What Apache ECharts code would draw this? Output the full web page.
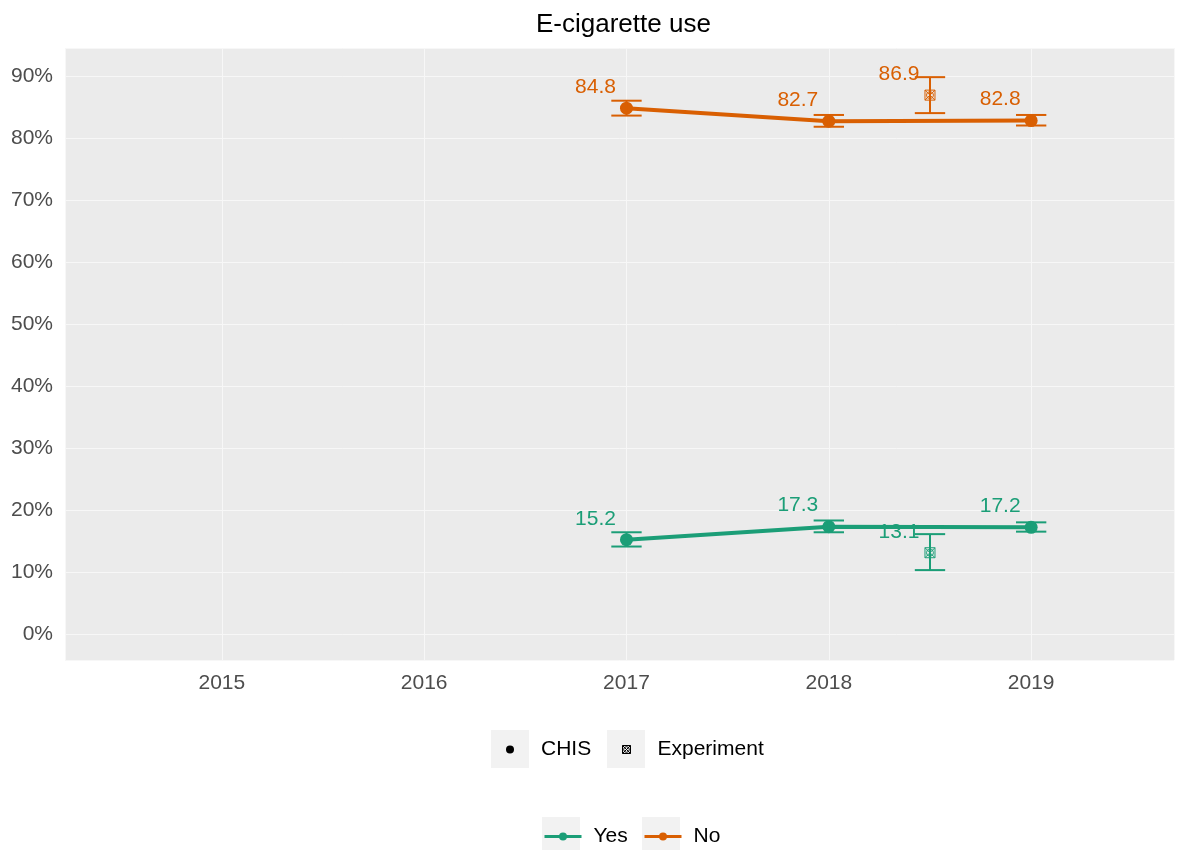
<!DOCTYPE html>
<html>
<head>
<meta charset="utf-8">
<title>E-cigarette use</title>
<script src="https://cdn.jsdelivr.net/npm/echarts@6/dist/echarts.min.js"></script>
<style>
  html, body { margin: 0; padding: 0; background: #ffffff; }
  #chart { width: 1177px; height: 850px; }
</style>
</head>
<body>
<div id="chart"></div>
<script>
// Survey years (CHIS) and the experiment wave placed between 2018 and 2019
const years = [2017, 2018, 2019];
const expYear = 2018.5;

// Percent answering "Yes" with 95% interval bounds
const yesCHIS = [15.2, 17.3, 17.2];
const yesLow  = [14.1, 16.4, 16.5];
const yesHigh = [16.4, 18.3, 18.0];
const yesExp = 13.1, yesExpLow = 10.3, yesExpHigh = 16.1;

// Percent answering "No" with 95% interval bounds
const noCHIS = [84.8, 82.7, 82.8];
const noLow  = [83.6, 81.8, 82.0];
const noHigh = [86.0, 83.7, 83.7];
const noExp = 86.9, noExpLow = 84.0, noExpHigh = 89.8;

const xTicks = [2015, 2016, 2017, 2018, 2019];
const yTicks = [0, 10, 20, 30, 40, 50, 60, 70, 80, 90];

const GREEN = '#1B9E77';
const ORANGE = '#D95F02';
const FONT = 'Liberation Sans, Arial, Helvetica, sans-serif';

// square with a cross and a circle, outline only
const EXP_SYMBOL = 'path://M0 0H10V10H0Z M0 0L10 10 M10 0L0 10 M8.5 5A3.5 3.5 0 1 1 1.5 5A3.5 3.5 0 1 1 8.5 5Z';

const CAP_HALF = 0.075; // half width of error-bar caps, in years

function errorBarRenderer(color) {
  return function (params, api) {
    const x = api.value(0), lo = api.value(1), hi = api.value(2);
    const pLo = api.coord([x, lo]);
    const pHi = api.coord([x, hi]);
    const cl = api.coord([x - CAP_HALF, hi])[0];
    const cr = api.coord([x + CAP_HALF, hi])[0];
    const style = { stroke: color, lineWidth: 2, fill: null };
    return {
      type: 'group',
      children: [
        { type: 'line', shape: { x1: pHi[0], y1: pHi[1], x2: pLo[0], y2: pLo[1] }, style },
        { type: 'line', shape: { x1: cl, y1: pHi[1], x2: cr, y2: pHi[1] }, style },
        { type: 'line', shape: { x1: cl, y1: pLo[1], x2: cr, y2: pLo[1] }, style }
      ]
    };
  };
}

function zip2(xs, ys) { return xs.map((x, i) => [x, ys[i]]); }
function zip3(xs, a, b) { return xs.map((x, i) => [x, a[i], b[i]]); }

const valueLabel = (color) => ({
  show: true,
  position: 'inside',
  offset: [-31, -21],
  color: color,
  opacity: 1,
  fontSize: 21,
  fontFamily: FONT,
  formatter: (p) => p.value[1].toFixed(1)
});

const chart = echarts.init(document.getElementById('chart'), null, { renderer: 'canvas' });

const legendText = { fontSize: 21, color: '#000000', fontFamily: FONT, padding: [0, 0, 0, 7] };
const legendBase = { orient: 'horizontal', padding: 0, selectedMode: false, textStyle: legendText };

const option = {
  backgroundColor: '#ffffff',
  animation: false,
  title: {
    text: 'E-cigarette use',
    left: 531,
    top: 7,
    textStyle: { fontSize: 26, fontWeight: 'normal', color: '#000000', fontFamily: FONT }
  },
  grid: {
    left: 65, right: 2, top: 48, bottom: 190,
    show: true, backgroundColor: '#EBEBEB', borderWidth: 0
  },
  xAxis: {
    type: 'value',
    min: 2014.225,
    max: 2019.706,
    minInterval: 1,
    maxInterval: 1,
    axisLine: { show: false },
    axisTick: { show: false },
    splitLine: { show: true, lineStyle: { color: '#F7F7F7', width: 1 } },
    axisLabel: {
      margin: 13,
      fontSize: 21,
      color: '#4D4D4D',
      fontFamily: FONT,
      formatter: (v) => (xTicks.indexOf(Math.round(v)) >= 0 && Math.abs(v - Math.round(v)) < 1e-6) ? String(Math.round(v)) : ''
    }
  },
  yAxis: {
    type: 'value',
    min: -4.2,
    max: 94.5,
    minInterval: 10,
    maxInterval: 10,
    axisLine: { show: false },
    axisTick: { show: false },
    splitLine: { show: true, lineStyle: { color: '#F7F7F7', width: 1 } },
    axisLabel: {
      margin: 12,
      fontSize: 21,
      color: '#4D4D4D',
      fontFamily: FONT,
      formatter: (v) => (yTicks.indexOf(Math.round(v)) >= 0 && Math.abs(v - Math.round(v)) < 1e-6) ? Math.round(v) + '%' : ''
    }
  },
  legend: [
    Object.assign({}, legendBase, {
      left: 506, top: 739, itemWidth: 38, itemHeight: 8,
      data: [{ name: 'CHIS', icon: 'circle', itemStyle: { color: '#000000', borderWidth: 0 } }]
    }),
    Object.assign({}, legendBase, {
      left: 620, top: 739, itemWidth: 38, itemHeight: 8,
      data: [{ name: 'Experiment', icon: EXP_SYMBOL, itemStyle: { color: 'none', borderColor: '#000000', borderWidth: 1 } }]
    }),
    Object.assign({}, legendBase, {
      left: 543, top: 826, itemWidth: 37, itemHeight: 10,
      lineStyle: { width: 3 },
      data: ['Yes']
    }),
    Object.assign({}, legendBase, {
      left: 643, top: 826, itemWidth: 37, itemHeight: 10,
      lineStyle: { width: 3 },
      data: ['No']
    })
  ],
  graphic: [
    // key backgrounds of the legends
    { type: 'rect', left: 491, top: 730, shape: { width: 38, height: 38 }, style: { fill: '#F2F2F2' }, z: 0 },
    { type: 'rect', left: 607, top: 730, shape: { width: 38, height: 38 }, style: { fill: '#F2F2F2' }, z: 0 },
    { type: 'rect', left: 542, top: 817, shape: { width: 38, height: 38 }, style: { fill: '#F2F2F2' }, z: 0 },
    { type: 'rect', left: 642, top: 817, shape: { width: 38, height: 38 }, style: { fill: '#F2F2F2' }, z: 0 }
  ],
  series: [
    {
      name: 'CHIS', type: 'scatter', data: [], itemStyle: { color: '#000000', opacity: 1 }
    },
    {
      name: 'Experiment', type: 'scatter', z: 2,
      data: [[expYear, yesExp]],
      symbol: EXP_SYMBOL, symbolSize: 10,
      itemStyle: { color: 'none', borderColor: GREEN, borderWidth: 1, opacity: 1 },
      label: valueLabel(GREEN)
    },
    {
      name: 'Experiment', type: 'scatter', z: 2,
      data: [[expYear, noExp]],
      symbol: EXP_SYMBOL, symbolSize: 10,
      itemStyle: { color: 'none', borderColor: ORANGE, borderWidth: 1, opacity: 1 },
      label: valueLabel(ORANGE)
    },
    {
      name: 'Yes', type: 'line', z: 3,
      data: zip2(years, yesCHIS),
      color: GREEN,
      lineStyle: { width: 4, color: GREEN },
      symbol: 'circle', symbolSize: 13,
      itemStyle: { color: GREEN },
      label: valueLabel(GREEN)
    },
    {
      name: 'No', type: 'line', z: 3,
      data: zip2(years, noCHIS),
      color: ORANGE,
      lineStyle: { width: 4, color: ORANGE },
      symbol: 'circle', symbolSize: 13,
      itemStyle: { color: ORANGE },
      label: valueLabel(ORANGE)
    },
    {
      name: 'Yes interval', type: 'custom', z: 5,
      renderItem: errorBarRenderer(GREEN),
      encode: { x: 0, y: [1, 2] },
      data: zip3(years, yesLow, yesHigh).concat([[expYear, yesExpLow, yesExpHigh]])
    },
    {
      name: 'No interval', type: 'custom', z: 5,
      renderItem: errorBarRenderer(ORANGE),
      encode: { x: 0, y: [1, 2] },
      data: zip3(years, noLow, noHigh).concat([[expYear, noExpLow, noExpHigh]])
    }
  ]
};

chart.setOption(option);
</script>
</body>
</html>
